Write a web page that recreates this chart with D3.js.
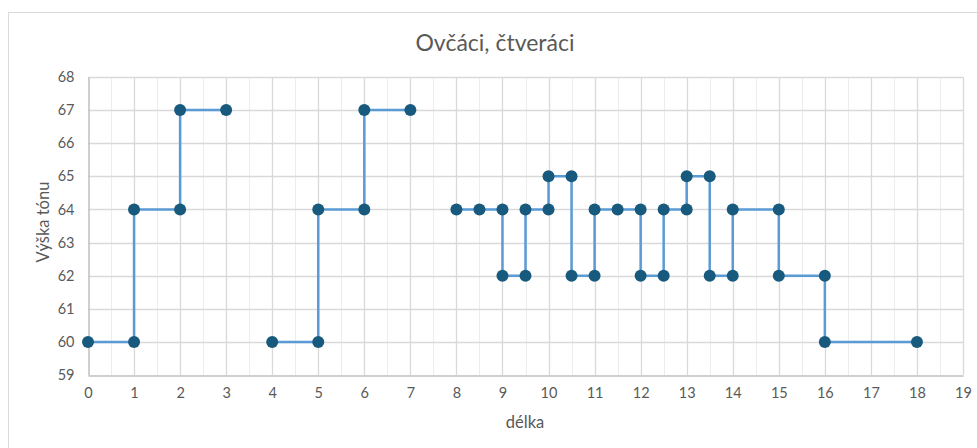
<!DOCTYPE html>
<html><head><meta charset="utf-8">
<script src="https://cdn.jsdelivr.net/npm/d3@7"></script>
<style>
html,body{margin:0;padding:0;background:#fff;}
text{font-family:Lato,"Open Sans",sans-serif;}
</style></head>
<body>
<svg id="c" width="977" height="448"></svg>
<script>
const title = "Ovčáci, čtveráci";
const xLabel = "délka";
const yLabel = "Výška tónu";
const xTicks = d3.range(0, 20, 1);
const yTicks = d3.range(59, 69, 1);
// melody segments (each segment drawn as a connected line, gaps between segments)
const seg1X = [0, 1, 1, 2, 2, 3];
const seg1Y = [60, 60, 64, 64, 67, 67];
const seg2X = [4, 5, 5, 6, 6, 7];
const seg2Y = [60, 60, 64, 64, 67, 67];
const seg3X = [8, 8.5, 9, 9, 9.5, 9.5, 10, 10, 10.5, 10.5, 11, 11, 11.5, 12, 12, 12.5, 12.5, 13, 13, 13.5, 13.5, 14, 14, 15, 15, 16, 16, 18];
const seg3Y = [64, 64, 64, 62, 62, 64, 64, 65, 65, 62, 62, 64, 64, 64, 62, 62, 64, 64, 65, 65, 62, 62, 64, 64, 62, 62, 60, 60];

const segments = [[seg1X, seg1Y], [seg2X, seg2Y], [seg3X, seg3Y]]
  .map(([xs, ys]) => xs.map((x, i) => ({x, y: ys[i]})));

const svg = d3.select("#c");
// chart border
svg.append("rect").attr("x", 8.5).attr("y", 12.5).attr("width", 980).attr("height", 450)
  .attr("fill", "#fff").attr("stroke", "#d9d9d9").attr("stroke-width", 1);

const L = 88, R = 963, T = 77, B = 375;
const x = d3.scaleLinear().domain([0, 19]).range([L, R]);
const y = d3.scaleLinear().domain([59, 68]).range([B, T]);

const g = svg.append("g");
// minor vertical grid
g.selectAll(".vmin").data(d3.range(0.5, 19, 1)).join("line")
  .attr("x1", d => Math.round(x(d)) + 0.5).attr("x2", d => Math.round(x(d)) + 0.5)
  .attr("y1", T).attr("y2", B).attr("stroke", "#ececec").attr("stroke-width", 1);
// major vertical grid
g.selectAll(".vmaj").data(xTicks.slice(1)).join("line")
  .attr("x1", d => Math.round(x(d)) + 0.5).attr("x2", d => Math.round(x(d)) + 0.5)
  .attr("y1", T).attr("y2", B).attr("stroke", "#d9d9d9").attr("stroke-width", 1.3);
// horizontal grid
g.selectAll(".h").data(yTicks.slice(1)).join("line")
  .attr("x1", L).attr("x2", R)
  .attr("y1", d => Math.round(y(d)) + 0.5).attr("y2", d => Math.round(y(d)) + 0.5)
  .attr("stroke", "#d9d9d9").attr("stroke-width", 1.3);

// axes
const xAxis = d3.axisBottom(x).tickValues(xTicks).tickSize(0).tickPadding(12);
const yAxis = d3.axisLeft(y).tickValues(yTicks).tickSize(0).tickPadding(14);
const gx = svg.append("g").attr("transform", `translate(0,${Math.round(B)+0.5})`).call(xAxis);
const gy = svg.append("g").attr("transform", `translate(${Math.round(L)+0.5},0)`).call(yAxis);
[gx, gy].forEach(a => {
  a.select(".domain").attr("stroke", "#bfbfbf").attr("stroke-width", 1.5);
  a.selectAll("text").attr("fill", "#595959").style("font-size", "14.5px")
    .style("font-family", "Lato, 'Open Sans', sans-serif");
});

// lines
const line = d3.line().x(d => x(d.x)).y(d => y(d.y));
svg.append("g").selectAll("path").data(segments).join("path")
  .attr("d", line).attr("fill", "none").attr("stroke", "#5b9bd5").attr("stroke-width", 2.5);
// markers
svg.append("g").selectAll("circle").data(segments.flat()).join("circle")
  .attr("cx", d => x(d.x)).attr("cy", d => y(d.y)).attr("r", 6)
  .attr("fill", "#185a7d");

// titles
svg.append("text").attr("x", 495).attr("y", 51).attr("text-anchor", "middle")
  .attr("fill", "#595959").style("font-size", "23px").text(title);
svg.append("text").attr("x", 525).attr("y", 428).attr("text-anchor", "middle")
  .attr("fill", "#595959").style("font-size", "16.5px").text(xLabel);
svg.append("text").attr("transform", `translate(49,${(T+B)/2 - 4}) rotate(-90)`)
  .attr("text-anchor", "middle").attr("fill", "#595959").style("font-size", "16.5px").text(yLabel);
</script>
</body></html>
